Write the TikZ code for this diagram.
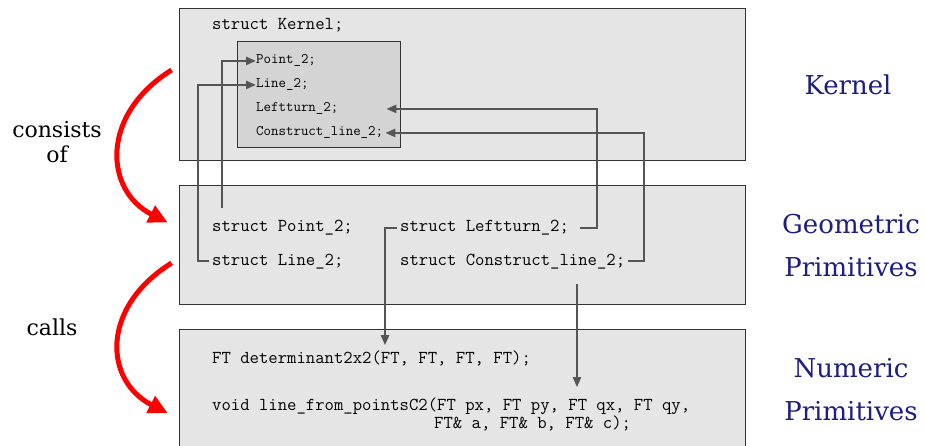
\documentclass[tikz,border=0pt]{standalone}
\usepackage{fontspec}
\setmainfont{DejaVu Serif}
\usetikzlibrary{arrows.meta}
\definecolor{boxgray}{HTML}{E5E5E5}
\definecolor{innergray}{HTML}{D4D4D4}
\definecolor{linkgray}{HTML}{555555}
\definecolor{labelblue}{HTML}{1E1E80}
\tikzset{
  layer/.style={draw=black!80, fill=boxgray, line width=0.8pt, minimum width=566pt},
  code/.style={font=\ttfamily\fontsize{18.2}{20}\selectfont, anchor=base west, inner sep=0pt},
  smallcode/.style={font=\ttfamily\fontsize{14.5}{16}\selectfont, anchor=base west, inner sep=0pt},
  link/.style={draw=linkgray, line width=2.2pt},
  linkarrow/.style={link, -{Triangle[length=10pt,width=8pt]}},
  levelname/.style={text=labelblue, font=\fontsize{26}{43}\selectfont, align=center},
  relation/.style={font=\fontsize{22}{25}\selectfont, align=center},
  bigarrow/.style={draw=red, line width=5pt, -{Triangle[length=19pt,width=18pt]}}
}
\begin{document}
\begin{tikzpicture}[x=1pt,y=-1pt]
  \useasboundingbox (0,0) rectangle (925,446);
  % the three layers
  \node[layer, minimum height=152pt] (kernel) at (462,84) {};
  \node[layer, minimum height=119pt] (geo) at (462,244.5) {};
  \node[layer, minimum height=123pt] (num) at (462,390.5) {};
  \node[draw=black!80, fill=innergray, line width=0.8pt, minimum width=163pt, minimum height=106pt] (inner) at (318.5,94) {};

  % kernel layer
  \node[code] (ks) at (212,30) {struct Kernel;};
  \node[smallcode] (kp) at (256,64) {Point\_2;};
  \node[smallcode] (kl) at (256,88) {Line\_2;};
  \node[smallcode] (kt) at (256,112) {Leftturn\_2;};
  \node[smallcode] (kc) at (256,136) {Construct\_line\_2;};

  % geometric primitives layer
  \node[code] (gp) at (212,232) {struct Point\_2;};
  \node[code] (gl) at (212,265) {struct Line\_2;};
  \node[code] (gt) at (400,232) {struct Leftturn\_2;};
  \node[code] (gc) at (400,265) {struct Construct\_line\_2;};

  % numeric primitives layer
  \node[code] (nd) at (212,363) {FT determinant2x2(FT, FT, FT, FT);};
  \node[code] (nl) at (212,410) {void line\_from\_pointsC2(FT px, FT py, FT qx, FT qy,};
  \node[code] (nr) at (434,428) {FT\& a, FT\& b, FT\& c);};

  % links between the layers
  \coordinate (ktend) at (kt.west -| kc.east);
  \draw[linkarrow] ([xshift=10pt,yshift=12pt]gp.north west) |- (kp.west);
  \draw[linkarrow] ([xshift=-3pt]gl.west) -- ++(-11,0) |- (kl.west);
  \draw[linkarrow] ([xshift=11pt]gt.east) -- ++(17,0) |- ([xshift=3pt]ktend);
  \draw[linkarrow] ([xshift=3pt]gc.east) -- ++(16,0) |- ([xshift=2pt]kc.east);
  \coordinate (dtop) at ([yshift=5pt]nd.north);
  \draw[linkarrow] ([xshift=-3pt]gt.west) -- ++(-12,0) coordinate (dturn) -- (dturn |- dtop);
  \coordinate (ltop) at ([yshift=10pt]nl.north);
  \draw[linkarrow] ([xshift=177pt,yshift=-15pt]gc.south west) coordinate (lstart) -- (lstart |- ltop);

  % level names
  \node[levelname] (kname) at (848,85) {Kernel};
  \node[levelname] (gname) at (851,246) {Geometric\\Primitives};
  \node[levelname] (nname) at (851,390) {Numeric\\Primitives};

  % relations
  \node[relation] (consists) at (57,142) {consists\\of};
  \node[relation] (calls) at (52,327) {calls};
  \draw[bigarrow] ([xshift=-7pt,yshift=14pt]kernel.west) .. controls +(-72,45) and +(-63,-32) .. ([xshift=-11pt,yshift=22pt]geo.west);
  \draw[bigarrow] ([xshift=-7pt,yshift=-18.5pt]geo.west) .. controls +(-72,45) and +(-63,-32) .. ([xshift=-11pt,yshift=-22.5pt]num.west);
\end{tikzpicture}
\end{document}
